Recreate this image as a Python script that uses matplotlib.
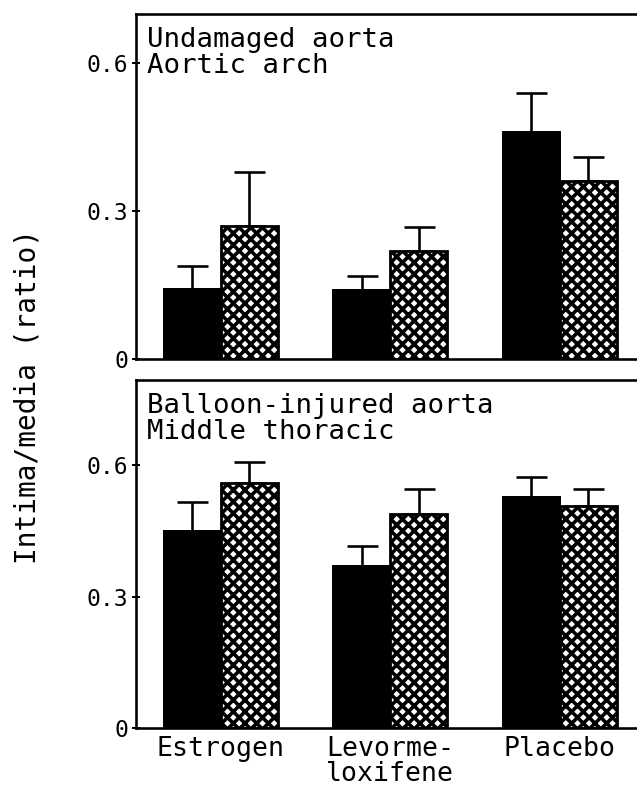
import numpy as np
import matplotlib
matplotlib.use('Agg')
import matplotlib.pyplot as plt

# data
groups = ['Estrogen', 'Levorme-\nloxifene', 'Placebo']
top_solid = [0.142, 0.140, 0.460]
top_solid_err = [0.047, 0.028, 0.080]
top_hatch = [0.270, 0.219, 0.361]
top_hatch_err = [0.110, 0.049, 0.049]
bot_solid = [0.449, 0.370, 0.527]
bot_solid_err = [0.067, 0.045, 0.046]
bot_hatch = [0.559, 0.488, 0.506]
bot_hatch_err = [0.048, 0.057, 0.039]
yticks = [0, 0.3, 0.6]
yticklabels = ['0', '0.3', '0.6']

DPI = 70
PX = 72.0 / DPI  # points per pixel

plt.rcParams['font.family'] = ['DejaVu Sans Mono', 'DejaVu Sans']
plt.rcParams['hatch.linewidth'] = 3.6 * PX
plt.rcParams['hatch.color'] = 'black'

fig = plt.figure(figsize=(637 / DPI, 788 / DPI), dpi=DPI)
W, H = 637.0, 788.0
ax_top = fig.add_axes([136 / W, 1 - 359 / H, 1 - 136 / W, (359 - 14) / H])
ax_bot = fig.add_axes([136 / W, 1 - 728 / H, 1 - 136 / W, (728 - 380) / H])

x = np.arange(len(groups))
bw = 0.336


def draw_panel(ax, solid, solid_err, hatch, hatch_err, ymax, lines):
    ax.bar(x - bw / 2, solid, bw, color='black', edgecolor='black', linewidth=2 * PX, zorder=2)
    ax.bar(x + bw / 2, hatch, bw, color='white', edgecolor='black', hatch='xx',
           linewidth=2.8 * PX, zorder=2)
    zeros = np.zeros(len(x))
    ax.errorbar(x - bw / 2, solid, yerr=[zeros, solid_err], fmt='none', ecolor='black',
                elinewidth=2.6 * PX, capsize=15.5 * PX, capthick=2.6 * PX, zorder=1)
    ax.errorbar(x + bw / 2, hatch, yerr=[zeros, hatch_err], fmt='none', ecolor='black',
                elinewidth=2.6 * PX, capsize=15.5 * PX, capthick=2.6 * PX, zorder=1)
    ax.set_xlim(-0.5, 2.456)
    ax.set_ylim(0, ymax)
    ax.set_yticks(yticks)
    ax.set_yticklabels(yticklabels)
    ax.tick_params(axis='y', direction='inout', length=8 * PX, width=2 * PX,
                   labelsize=23.7, pad=4 * PX)
    ax.spines['right'].set_visible(False)
    for s in ['left', 'top', 'bottom']:
        ax.spines[s].set_linewidth(2.6 * PX)
    ax.text(0.022, 0.962, lines, transform=ax.transAxes, ha='left', va='top',
            fontsize=28.2, linespacing=0.98)


draw_panel(ax_top, top_solid, top_solid_err, top_hatch, top_hatch_err, 0.70,
           'Undamaged aorta\nAortic arch')
draw_panel(ax_bot, bot_solid, bot_solid_err, bot_hatch, bot_hatch_err, 0.794,
           'Balloon-injured aorta\nMiddle thoracic')

ax_top.set_xticks([])
ax_bot.set_xticks(x)
ax_bot.set_xticklabels(groups, fontsize=27.3, linespacing=0.95)
ax_bot.tick_params(axis='x', length=0, pad=8 * PX)

fig.text(28 / W, 1 - 397 / H, 'Intima/media (ratio)', rotation=90, ha='center', va='center',
         fontsize=28.5)

fig.savefig('out.png', dpi=DPI)
